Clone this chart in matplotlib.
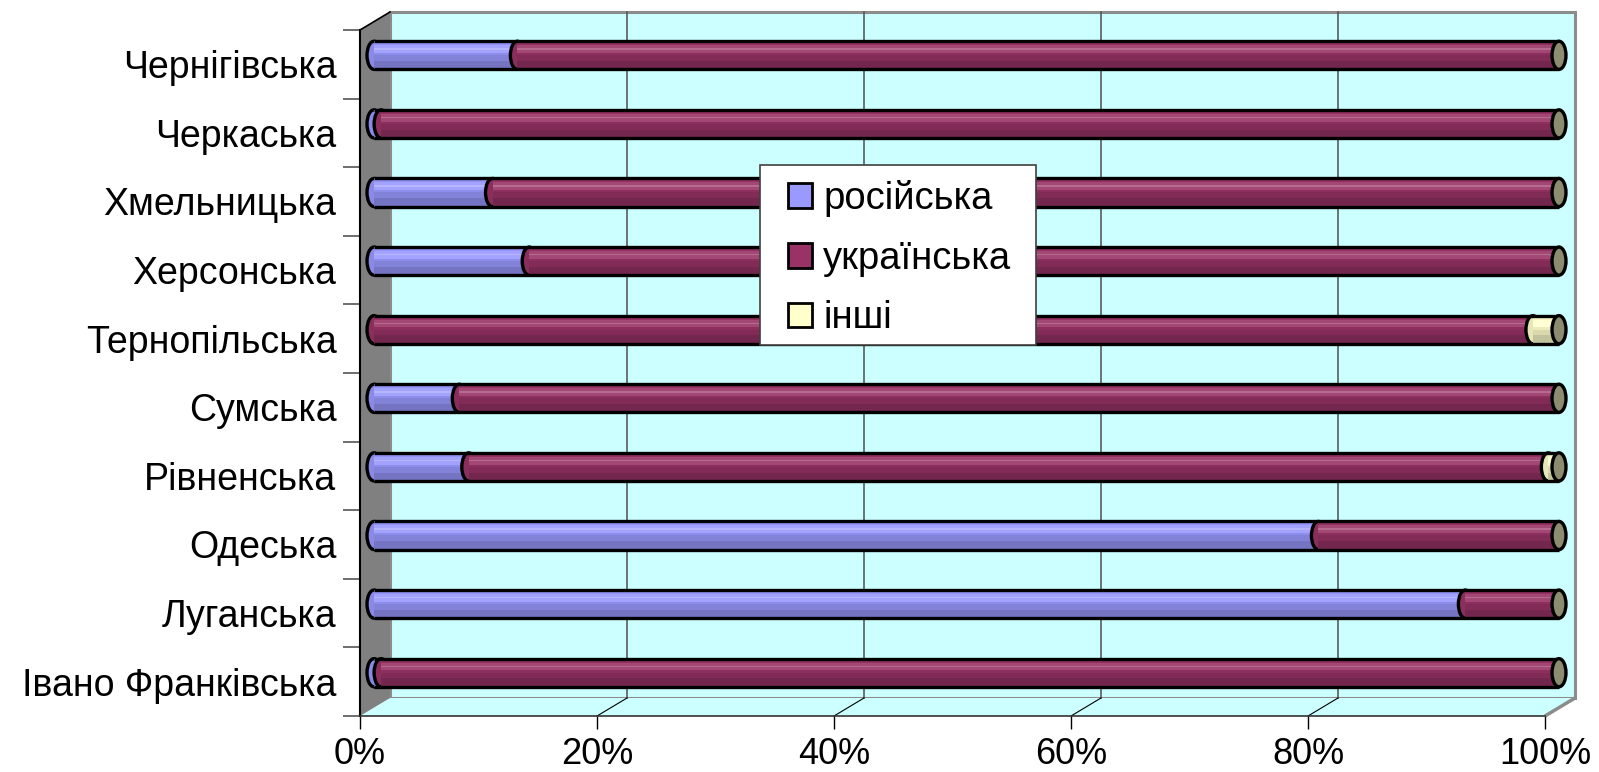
import numpy as np
import matplotlib
matplotlib.use('Agg')
import matplotlib.pyplot as plt
from matplotlib.patches import Ellipse, Polygon, Patch, Rectangle
from matplotlib.transforms import ScaledTranslation
from matplotlib.colors import to_rgb

plt.rcParams['font.family'] = ['Liberation Sans', 'DejaVu Sans']

regions = ['Чернігівська', 'Черкаська', 'Хмельницька', 'Херсонська', 'Тернопільська',
           'Сумська', 'Рівненська', 'Одеська', 'Луганська', 'Івано Франківська']
russian = [12.1, 0.6, 10.0, 13.1, 0.0, 7.2, 8.0, 79.7, 92.1, 0.6]
other = [0.0, 0.0, 0.0, 0.0, 2.2, 0.0, 0.9, 0.0, 0.0, 0.0]
ukrainian = [100 - r - o for r, o in zip(russian, other)]

series = [('російська', russian, '#9999FF'),
          ('українська', ukrainian, '#993366'),
          ('інші', other, '#FFFFCC')]
cap_color = '#8C8C70'
wall_color = '#CCFFFF'
FS = 26


def shade(c, f):
    rgb = np.array(to_rgb(c))
    if f < 1:
        return tuple(rgb * f)
    return tuple(rgb + (1 - rgb) * (f - 1))


W, H = 1599, 772
fig = plt.figure(figsize=(W / 100, H / 100), dpi=100)
# front plane of the 3d box
ax = fig.add_axes([360 / W, 56 / H, 1185 / W, 686 / H])
ax.set_xlim(0, 100)
ax.set_ylim(0, 10)
ax.patch.set_visible(False)

back = ax.transData + ScaledTranslation(0.30, 0.18, fig.dpi_scale_trans)
mid = ax.transData + ScaledTranslation(0.14, 0.09, fig.dpi_scale_trans)
depth = (100 * 30 / 1185, 10 * 18 / 686)

# walls
ax.add_patch(Polygon([(0, 0), (100, 0), (100, 10), (0, 10)], closed=True,
                     facecolor=wall_color, edgecolor='#8C8C8C', lw=2.2,
                     transform=back, zorder=0, clip_on=False))
ax.add_patch(Polygon([(0, 0), (100, 0), (100 + depth[0], depth[1]), (depth[0], depth[1])],
                     closed=True, facecolor=wall_color, edgecolor='none', zorder=0.5,
                     clip_on=False))
ax.plot([100, 100 + depth[0]], [0, depth[1]], color='#8C8C8C', lw=2.5, zorder=0.6,
        solid_capstyle='butt', clip_on=False)
ax.add_patch(Polygon([(0, 0), (depth[0], depth[1]), (depth[0], 10 + depth[1]), (0, 10)],
                     closed=True, facecolor='#808080', edgecolor='none', zorder=1,
                     clip_on=False))
ax.plot([0, depth[0]], [10, 10 + depth[1]], color='black', lw=1.2, zorder=1.1, clip_on=False)

# gridlines on the back wall and across the floor
for gx in [20, 40, 60, 80]:
    ax.plot([gx, gx], [0, 10], color='#505050', lw=1.1, transform=back, zorder=0.8,
            clip_on=False)
    ax.plot([gx, gx + depth[0]], [0, depth[1]], color='black', lw=0.8, zorder=0.8,
            clip_on=False)

# cylinders
bar_h = 0.41
ypos = np.arange(len(regions))[::-1] + 0.5
ell_w = 1.18
bands = [(-0.5, 1.0, 0.92), (-0.5, 0.3, 0.76), (-0.2, 0.2, 0.85),
         (0.08, 0.28, 1.1), (0.2, 0.05, 1.28), (0.36, 0.14, 0.96)]

left = np.zeros(len(regions))
for k, (name, vals, col) in enumerate(series):
    vals = np.array(vals)
    z = 5 + 3 * k
    for y, l, v in zip(ypos, left, vals):
        if v > 0:
            ax.add_patch(Ellipse((l, y), ell_w, bar_h, facecolor=shade(col, 0.9),
                                 edgecolor='black', lw=2.4, transform=mid, zorder=z,
                                 clip_on=False))
    for off, frac, f in bands:
        ax.barh(ypos + off * bar_h + frac * bar_h / 2, vals, left=left,
                height=frac * bar_h, color=shade(col, f), edgecolor='none',
                transform=mid, zorder=z + 1, clip_on=False)
    left = left + vals

ax.hlines(ypos + bar_h / 2, 0, 100, colors='black', lw=2.4, transform=mid, zorder=20,
          clip_on=False)
ax.hlines(ypos - bar_h / 2, 0, 100, colors='black', lw=2.4, transform=mid, zorder=20,
          clip_on=False)
for y in ypos:
    ax.add_patch(Ellipse((100, y), ell_w, bar_h, facecolor=cap_color,
                         edgecolor='black', lw=2.4, transform=mid, zorder=30,
                         clip_on=False))

# axes
for s in ['top', 'right']:
    ax.spines[s].set_visible(False)
ax.spines['left'].set_color('black')
ax.spines['left'].set_linewidth(1.5)
ax.spines['bottom'].set_color('#333333')
ax.spines['bottom'].set_linewidth(1.2)
ax.spines['left'].set_zorder(2)

ax.set_xticks([0, 20, 40, 60, 80, 100])
ax.set_xticklabels(['0%', '20%', '40%', '60%', '80%', '100%'])
ax.tick_params(axis='x', length=9.4, width=1, color='black', labelsize=FS, pad=6)

ax.set_yticks(np.arange(0, 11))
ax.set_yticklabels([])
ax.tick_params(axis='y', which='major', length=12, width=1.2, color='#555555')
ax.set_yticks(ypos, minor=True)
ax.set_yticklabels(regions, minor=True)
ax.tick_params(axis='y', which='minor', length=0, labelsize=27, pad=17)

# legend box
ax.add_patch(Rectangle((760 / W, 1 - 345 / H), 276 / W, 180 / H,
                       transform=fig.transFigure, facecolor='white',
                       edgecolor='#404040', lw=1.2, zorder=39, clip_on=False))
handles = [Patch(facecolor=col, edgecolor='black', lw=2, label=name) for name, _, col in series]
leg = ax.legend(handles=handles, loc='upper left', bbox_to_anchor=(788 / W, 1 - 180 / H),
                bbox_transform=fig.transFigure, borderaxespad=0, borderpad=0, fontsize=27.5,
                handlelength=0.62, handleheight=0.62, handletextpad=0.3,
                labelspacing=0.62, frameon=False)
leg.set_zorder(40)

fig.savefig('out.png', dpi=100)
